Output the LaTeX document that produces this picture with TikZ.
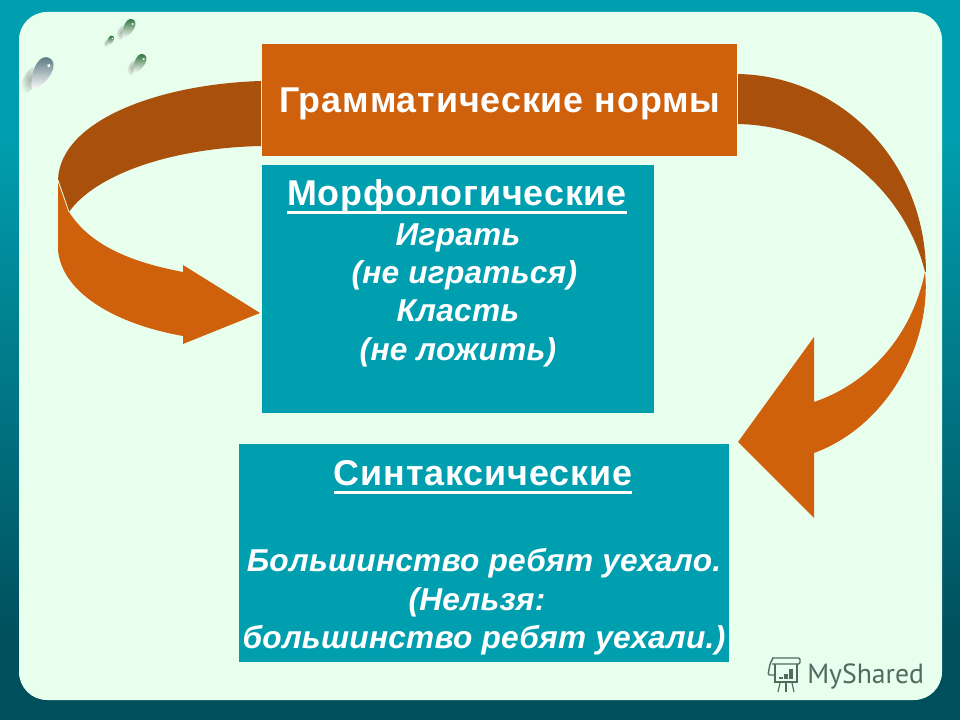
\documentclass[tikz,border=0pt]{standalone}
\usepackage{fontspec}
\setmainfont{Liberation Sans}
\newfontfamily\logofont{PT Sans}
\definecolor{tealbox}{HTML}{009FB0}
\definecolor{tealdark}{HTML}{004F5C}
\definecolor{panelgreen}{HTML}{E8FFEE}
\definecolor{arroworange}{HTML}{CF600C}
\definecolor{arrowbrown}{HTML}{A8500C}
\definecolor{logogray}{HTML}{4F6B60}
\definecolor{dropslate}{HTML}{4F6F78}
\definecolor{dropgreen}{HTML}{1F6A2E}
\tikzset{
	orangebox/.style={fill=arroworange, inner sep=0pt, align=center, text=white},
	tealpanel/.style={fill=tealbox, inner sep=0pt, anchor=north west},
	headtext/.style={text=white, inner sep=0pt, font=\fontsize{25.5}{25.5}\selectfont\bfseries\addfontfeature{LetterSpace=2.5}},
	bodytext/.style={text=white, inner sep=0pt, align=center, font=\fontsize{22.5}{27.3}\selectfont\bfseries\itshape\addfontfeature{LetterSpace=0.8}},
	headrule/.style={white, line width=1.8pt}
}
\begin{document}
\begin{tikzpicture}[x=0.025cm,y=-0.025cm]
\useasboundingbox (0,0) rectangle (960,720);
% background
\fill [tealbox] (0,0) rectangle (960,130);
\shade [top color=tealbox, bottom color=tealdark] (0,129.5) rectangle (960,640);
\fill [tealdark] (0,639.5) rectangle (960,720);
\fill [panelgreen, rounded corners=0.7cm] (19,12) rectangle (942,700);

% drops
\foreach \x/\y/\s/\c in {41/74/1.0/dropslate, 128/29/0.6/dropgreen, 139/64/0.6/dropgreen, 110/41/0.32/dropgreen}
{
	\begin{scope}[shift={(\x,\y)}, scale=\s, rotate=-28]
		\shade [inner color=gray!60!panelgreen, outer color=panelgreen] (-7,10) ellipse (6.5 and 16);
		\shade [top color=\c, middle color=\c!25!white, bottom color=white] (0,-18) .. controls (-8,-18) and (-10,-8) .. (-8,2) .. controls (-6,10) and (-3,16) .. (0,18) .. controls (3,16) and (6,10) .. (8,2) .. controls (10,-8) and (8,-18) .. (0,-18) -- cycle;
		\fill [white] (3,-11) circle (1.8);
	\end{scope}
}

% left arrow
\fill [arrowbrown] (261,81) .. controls (160,84) and (60,120) .. (58,180)
	-- (69,212) .. controls (95,175) and (170,148) .. (261,146) -- cycle;
\fill [arroworange] (58,182) -- (58,250) .. controls (62,295) and (120,325) .. (183,336)
	-- (183,344) -- (260,313) -- (183,265) -- (183,272)
	.. controls (130,262) and (90,245) .. (69,212) -- cycle;
\draw [panelgreen, line width=0.5pt] (58,180) -- (69,212);

% right arrow
\fill [arrowbrown] (738,74) .. controls (840,76) and (925,160) .. (926,272)
	-- (925,272) .. controls (905,190) and (830,126) .. (738,124) -- cycle;
\fill [arroworange] (925,272) .. controls (932,340) and (890,425) .. (814,453)
	-- (814,518) -- (738,442) -- (814,337) -- (814,402)
	.. controls (870,383) and (912,335) .. (925,272) -- cycle;

% boxes
\node [orangebox, headtext, text depth=0pt, anchor=north west, minimum width=475*0.025cm, minimum height=112*0.025cm] (title) at (262,44) {Грамматические нормы};
\node [tealpanel, minimum width=392*0.025cm, minimum height=248*0.025cm] (morphbox) at (262,165) {};
\node [tealpanel, minimum width=490*0.025cm, minimum height=218*0.025cm] (syntbox) at (239,444) {};

% texts
\node [headtext, anchor=base] (morphhead) at (457,206) {Морфологические};
\draw [headrule] ([yshift=-4.8pt]morphhead.base west) -- ([yshift=-4.8pt]morphhead.base east);
\node [bodytext, anchor=north] (morphtext) at (458,223) {Играть\\\hspace*{9pt}(не играться)\\Класть\\(не ложить)};
\node [headtext, anchor=base] (synthead) at (483,486) {Синтаксические};
\draw [headrule] ([yshift=-4.8pt]synthead.base west) -- ([yshift=-4.8pt]synthead.base east);
\node [bodytext, anchor=north] (synttext) at (484,548.5) {Большинство ребят уехало.\\(Нельзя:\rule{10pt}{0pt}\\большинство ребят уехали.)};

% logo
\node [text=logogray, inner sep=0pt, font=\logofont\fontsize{19.7}{19.7}\selectfont, anchor=base west] (logotext) at (807,683) {MyShared};
\draw [logogray, line width=1pt, rounded corners=1pt] (772,658) -- (800,658) -- (800,664) -- (772,664);
\draw [logogray, line width=1pt, rounded corners=1pt] (773,658) -- (770,664) -- (768,675) -- (775,675);
\draw [logogray, line width=1pt] (775,664) -- (775,682) -- (797,682) -- (797,664);
\foreach \x/\h in {779/2,784/5,789/10}
	\fill [logogray] (\x,679) rectangle ++(3.5,-\h);
\foreach \x/\d in {780/-2,786/0,792/2}
	\draw [logogray, line width=0.8pt] (\x,683) -- ++(\d,9);
\end{tikzpicture}
\end{document}
